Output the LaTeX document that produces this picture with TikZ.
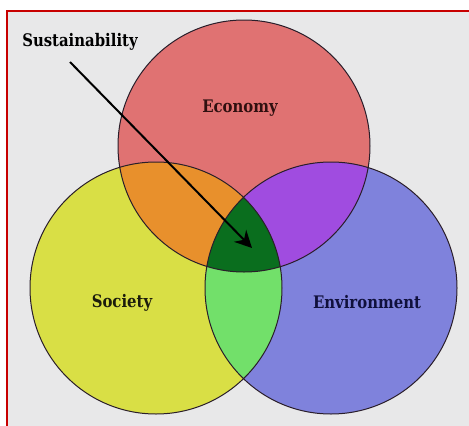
\documentclass[tikz,border=0pt]{standalone}
\usepackage{fontspec}
\setmainfont{Liberation Serif}
\newfontfamily\lblfont[FakeStretch=0.86]{DejaVu Serif}
\usetikzlibrary{arrows.meta}
\definecolor{bggray}{HTML}{E8E8E9}
\definecolor{frame}{HTML}{C80000}
\definecolor{ecored}{HTML}{E07272}
\definecolor{socyel}{HTML}{D9DF45}
\definecolor{envblue}{HTML}{7F82DC}
\definecolor{orangex}{HTML}{E8902C}
\definecolor{purplex}{HTML}{A04CE0}
\definecolor{lgreen}{HTML}{72E06A}
\definecolor{dgreen}{HTML}{0A6E1E}
\definecolor{outl}{HTML}{2A1E2A}
\tikzset{
  venn/.style={circle, minimum size=252pt, inner sep=0pt, draw=none},
  outline/.style={draw=outl, line width=1pt},
  lbl/.style={font=\lblfont\bfseries\fontsize{17.3}{20}\selectfont, inner sep=0pt},
  arrowline/.style={draw=black, line width=2pt, -{Stealth[length=17pt,width=17pt]}}
}
\begin{document}
\begin{tikzpicture}[x=1pt,y=-1pt]
\useasboundingbox (0,0) rectangle (469,426);
\fill[white] (0,0) rectangle (469,426);
\fill[bggray] (7,11) rectangle (469,426);
\draw[frame, line width=2pt] (7,426) -- (7,11) -- (469,11);
% circles
\node[venn, fill=ecored] (eco) at (244,146) {};
\node[venn, fill=socyel] (soc) at (156,288) {};
\node[venn, fill=envblue] (env) at (331,288) {};
% pairwise intersections
\begin{scope}
  \clip (eco.center) circle[radius=126pt];
  \fill[orangex] (soc.center) circle[radius=126pt];
\end{scope}
\begin{scope}
  \clip (eco.center) circle[radius=126pt];
  \fill[purplex] (env.center) circle[radius=126pt];
\end{scope}
\begin{scope}
  \clip (soc.center) circle[radius=126pt];
  \fill[lgreen] (env.center) circle[radius=126pt];
\end{scope}
\begin{scope}
  \clip (eco.center) circle[radius=126pt];
  \clip (soc.center) circle[radius=126pt];
  \fill[dgreen] (env.center) circle[radius=126pt];
\end{scope}
% outlines
\draw[outline] (eco.center) circle[radius=126pt];
\draw[outline] (soc.center) circle[radius=126pt];
\draw[outline] (env.center) circle[radius=126pt];
% labels
\node[lbl, text=black] (sus) at (80,42) {Sustainability};
\node[lbl, text={rgb,255:red,48;green,16;blue,16}] (ecol) at (240,108) {Economy};
\node[lbl, text={rgb,255:red,28;green,28;blue,12}] (socl) at (122,303) {Society};
\node[lbl, text={rgb,255:red,16;green,16;blue,60}] (envl) at (367,302) {Environment};
% arrow
\coordinate (astart) at (70,62);
\coordinate (aend) at (252,248);
\draw[arrowline] (astart) -- (aend);
\end{tikzpicture}
\end{document}
